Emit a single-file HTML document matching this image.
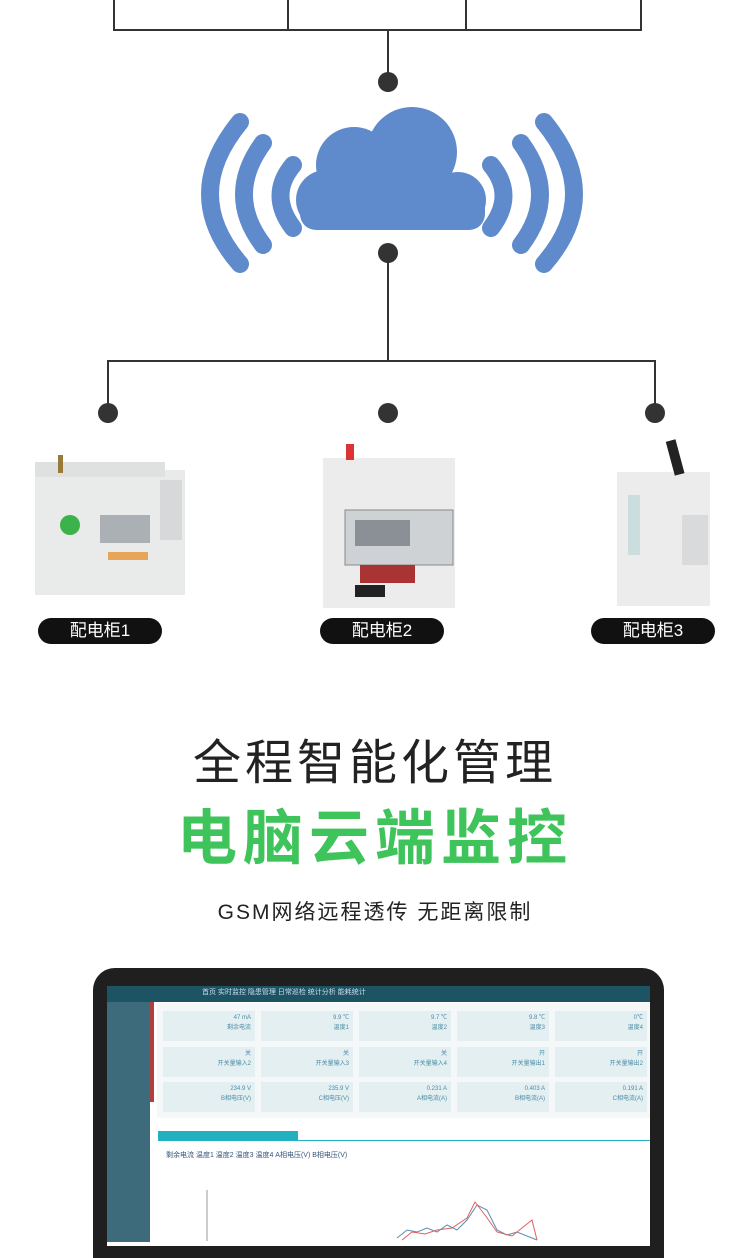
<!DOCTYPE html>
<html><head><meta charset="utf-8"><style>
body{margin:0;width:750px;height:1241px;overflow:hidden;background:#fff;position:relative;font-family:"Liberation Sans","Noto Sans CJK SC",sans-serif}
.a{position:absolute}
.pill{position:absolute;top:618px;height:26px;width:124px;background:#111;border-radius:13px;color:#fff;font-size:17px;text-align:center;line-height:26px}
.card{position:absolute;width:92px;height:30px;background:#e4eff2;font-size:6px;color:#4a8ca5;text-align:right;padding:2px 4px;box-sizing:border-box;line-height:10px}
</style></head><body>
<svg class="a" style="left:0;top:0" width="750" height="660">
<g stroke="#333" stroke-width="2" fill="none">
<polyline points="114,0 114,30 641,30 641,0"/>
<line x1="288" y1="0" x2="288" y2="30"/><line x1="466" y1="0" x2="466" y2="30"/>
<line x1="388" y1="30" x2="388" y2="82"/>
<line x1="388" y1="253" x2="388" y2="361"/>
<polyline points="108,413 108,361 655,361 655,413"/>
</g>
<g fill="#333"><circle cx="388" cy="82" r="10"/><circle cx="388" cy="253" r="10"/>
<circle cx="108" cy="413" r="10"/><circle cx="388" cy="413" r="10"/><circle cx="655" cy="413" r="10"/></g>
<g fill="#5f8bcc">
<circle cx="354" cy="165" r="38"/><circle cx="412" cy="152" r="45"/><circle cx="326" cy="200" r="30"/><circle cx="458" cy="200" r="28"/>
<rect x="300" y="180" width="185" height="50" rx="16"/>
</g>
<g stroke="#5f8bcc" stroke-linecap="round" fill="none" stroke-width="18">
<path d="M293,165 Q268,195 293,228"/><path d="M263,143 Q225,195 263,245"/><path d="M240,122 Q180,195 240,264"/>
<path d="M491,165 Q516,195 491,228"/><path d="M521,143 Q559,195 521,245"/><path d="M544,122 Q604,195 544,264"/>
</g>
<g><rect x="35" y="470" width="150" height="125" fill="#e9eaea"/><rect x="35" y="462" width="130" height="15" fill="#dfe0e0"/>
<rect x="58" y="455" width="5" height="18" fill="#9a7a3a"/>
<circle cx="70" cy="525" r="10" fill="#3cb34a"/><rect x="100" y="515" width="50" height="28" fill="#aab0b3"/>
<rect x="108" y="552" width="40" height="8" fill="#e7a55a"/><rect x="160" y="480" width="22" height="60" fill="#d6d8d9"/></g>
<g><rect x="323" y="458" width="132" height="150" fill="#ececec"/><rect x="346" y="444" width="8" height="16" fill="#d33"/>
<rect x="345" y="510" width="108" height="55" fill="#cfd2d4" stroke="#888"/><rect x="355" y="520" width="55" height="26" fill="#8a9096"/>
<rect x="360" y="565" width="55" height="18" fill="#a33"/><rect x="355" y="585" width="30" height="12" fill="#222"/></g>
<g><rect x="617" y="472" width="93" height="134" fill="#ececec"/><rect x="670" y="440" width="10" height="35" fill="#222" transform="rotate(-15 675 457)"/>
<rect x="682" y="515" width="26" height="50" fill="#d8dadb"/><rect x="628" y="495" width="12" height="60" fill="#cdd"/></g>
</svg>
<div class="pill" style="left:38px">配电柜1</div>
<div class="pill" style="left:320px">配电柜2</div>
<div class="pill" style="left:591px">配电柜3</div>
<div class="a" style="left:0;width:750px;top:732px;text-align:center;font-size:48px;color:#222;letter-spacing:4px;line-height:64px">全程智能化管理</div>
<div class="a" style="left:0;width:750px;top:801px;text-align:center;font-size:60px;font-weight:bold;color:#3fc35b;letter-spacing:6px;line-height:76px">电脑云端监控</div>
<div class="a" style="left:0;width:750px;top:899px;text-align:center;font-size:21px;color:#222;letter-spacing:2px;line-height:28px">GSM网络远程透传 无距离限制</div>
<div class="a" style="left:93px;top:968px;width:571px;height:290px;background:#1f1f1f;border-radius:22px 22px 0 0"></div>
<div class="a" style="left:107px;top:986px;width:543px;height:260px;background:#fff"></div>
<div class="a" style="left:107px;top:986px;width:543px;height:16px;background:#1d5463;color:#cde;font-size:7px;line-height:14px;padding-left:95px;box-sizing:border-box">首页 实时监控 隐患管理 日常巡检 统计分析 能耗统计</div>
<div class="a" style="left:107px;top:1002px;width:43px;height:240px;background:#3d6b7c"></div>
<div class="a" style="left:150px;top:1002px;width:4px;height:100px;background:#b04040"></div>
<div class="a" style="left:157px;top:1003px;width:493px;height:115px;background:#f4f8f9"></div>
<div class="card" style="left:163px;top:1011px">47 mA<br>剩余电流</div><div class="card" style="left:261px;top:1011px">9.9 ℃<br>温度1</div><div class="card" style="left:359px;top:1011px">9.7 ℃<br>温度2</div><div class="card" style="left:457px;top:1011px">9.8 ℃<br>温度3</div><div class="card" style="left:555px;top:1011px">0℃<br>温度4</div>
<div class="card" style="left:163px;top:1047px">关<br>开关量输入2</div><div class="card" style="left:261px;top:1047px">关<br>开关量输入3</div><div class="card" style="left:359px;top:1047px">关<br>开关量输入4</div><div class="card" style="left:457px;top:1047px">开<br>开关量输出1</div><div class="card" style="left:555px;top:1047px">开<br>开关量输出2</div>
<div class="card" style="left:163px;top:1082px">234.9 V<br>B相电压(V)</div><div class="card" style="left:261px;top:1082px">235.9 V<br>C相电压(V)</div><div class="card" style="left:359px;top:1082px">0.231 A<br>A相电流(A)</div><div class="card" style="left:457px;top:1082px">0.403 A<br>B相电流(A)</div><div class="card" style="left:555px;top:1082px">0.191 A<br>C相电流(A)</div>
<div class="a" style="left:158px;top:1131px;width:140px;height:9px;background:#23b0c0"></div>
<div class="a" style="left:158px;top:1140px;width:492px;height:1px;background:#23b0c0"></div>
<div class="a" style="left:166px;top:1150px;font-size:7px;color:#357">剩余电流 温度1 温度2 温度3 温度4 A相电压(V) B相电压(V)</div>
<svg class="a" style="left:157px;top:1160px" width="493" height="81">
<line x1="50" y1="30" x2="50" y2="81" stroke="#999"/>
<polyline points="240,78 250,70 260,72 270,68 280,72 290,65 300,70 310,60 320,45 330,50 340,70 350,75 360,72 380,80" stroke="#5a8fb0" fill="none"/>
<polyline points="245,80 255,72 268,74 280,70 295,68 310,58 318,42 328,55 340,72 355,76 375,60 380,80" stroke="#e06060" fill="none"/>
</svg>
</body></html>
